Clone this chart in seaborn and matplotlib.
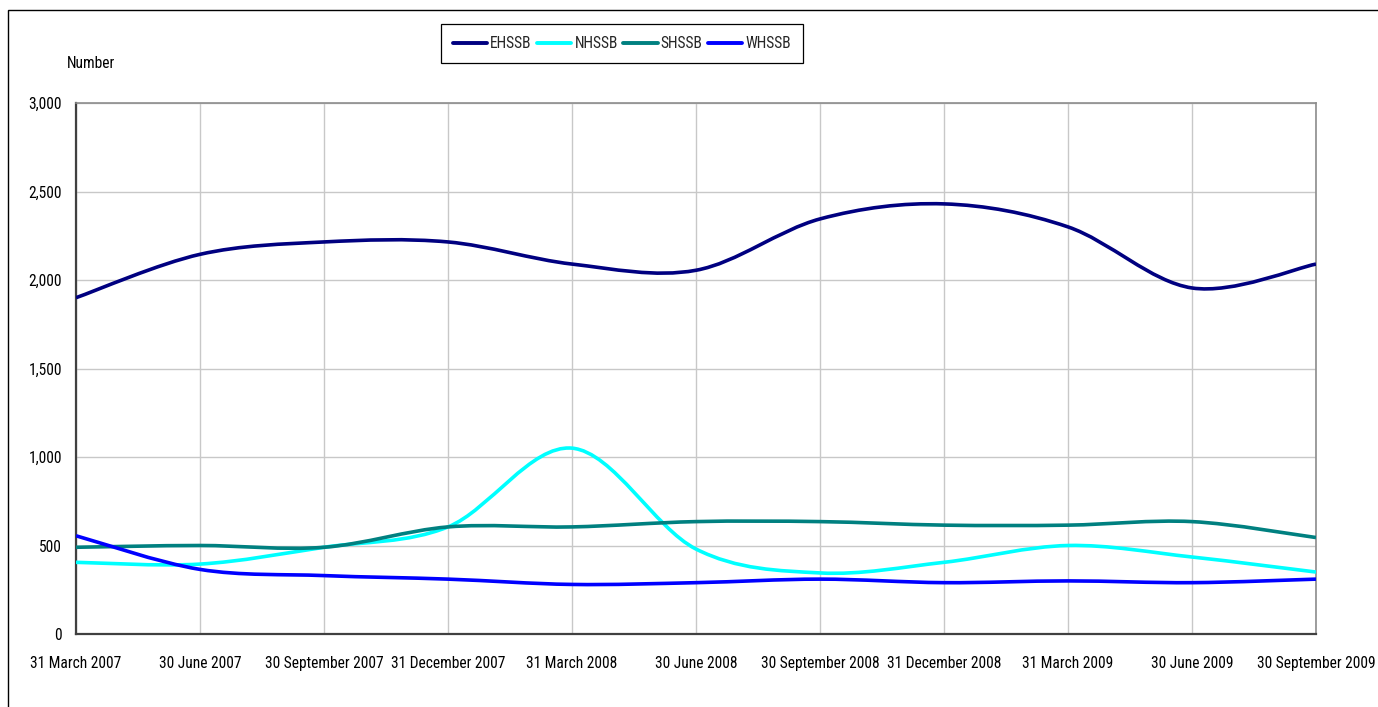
import matplotlib
matplotlib.use("Agg")
import matplotlib.pyplot as plt
from matplotlib import font_manager
from matplotlib.path import Path
from matplotlib.patches import PathPatch, Rectangle
import numpy as np
import pandas as pd
import seaborn as sns

# ---- data (quarter-end counts) ----
quarters = ["31 March 2007", "30 June 2007", "30 September 2007", "31 December 2007",
            "31 March 2008", "30 June 2008", "30 September 2008", "31 December 2008",
            "31 March 2009", "30 June 2009", "30 September 2009"]
EHSSB = [1900, 2145, 2215, 2215, 2090, 2055, 2345, 2430, 2300, 1955, 2090]
NHSSB = [405, 395, 490, 605, 1050, 480, 345, 405, 500, 435, 350]
SHSSB = [490, 500, 490, 605, 605, 635, 635, 615, 615, 635, 545]
WHSSB = [555, 365, 330, 310, 280, 290, 310, 290, 300, 290, 310]
series_names = ["EHSSB", "NHSSB", "SHSSB", "WHSSB"]
series_values = [EHSSB, NHSSB, SHSSB, WHSSB]
colors = ["#000080", "#00FFFF", "#008080", "#0000FF"]
y_ticks = [0, 500, 1000, 1500, 2000, 2500, 3000]

rows = []
for name, vals in zip(series_names, series_values):
    for i, v in enumerate(vals):
        rows.append({"idx": i, "value": v, "series": name})
df = pd.DataFrame(rows)

sns.set_theme(style="white")

# pick a narrow font if one is installed, otherwise shrink Liberation Sans
available = {f.name for f in font_manager.fontManager.ttflist}
narrow = None
for cand in ["Liberation Sans Narrow", "Arial Narrow", "Roboto Condensed",
             "Open Sans Condensed", "Noto Sans Condensed"]:
    if cand in available:
        narrow = cand
        break
if narrow:
    FONT = [narrow, "DejaVu Sans"]
    FS = 11.2
else:
    FONT = ["Liberation Sans", "DejaVu Sans"]
    FS = 9.6
plt.rcParams["font.family"] = FONT

W, H = 1378, 707
fig = plt.figure(figsize=(W / 100, H / 100), dpi=100)
fig.patch.set_facecolor("white")
L, R, T, B = 76, 1316, 103, 634
ax = fig.add_axes([L / W, 1 - B / H, (R - L) / W, (B - T) / H])

pal = dict(zip(series_names, colors))
sns.lineplot(data=df, x="idx", y="value", hue="series", palette=pal,
             hue_order=series_names, linewidth=2.6, ax=ax, legend=True)

# hide the straight polylines; redraw as smoothed Bezier curves (Excel smoothing)
for ln in ax.lines:
    ln.set_visible(False)


def smooth_path(xs, ys):
    pts = np.column_stack([xs, ys]).astype(float)
    n = len(pts)
    verts = [tuple(pts[0])]
    codes = [Path.MOVETO]
    for i in range(n - 1):
        p0 = pts[i - 1] if i > 0 else pts[i]
        p1 = pts[i]
        p2 = pts[i + 1]
        p3 = pts[i + 2] if i + 2 < n else pts[i + 1]
        c1 = p1 + (p2 - p0) / 6.0
        c2 = p2 - (p3 - p1) / 6.0
        verts += [tuple(c1), tuple(c2), tuple(p2)]
        codes += [Path.CURVE4] * 3
    return Path(verts, codes)


for name, col in zip(series_names, colors):
    sub = df[df["series"] == name]
    patch = PathPatch(smooth_path(sub["idx"].values, sub["value"].values),
                      fill=False, edgecolor=col, lw=2.6, joinstyle="round",
                      capstyle="butt", zorder=3)
    ax.add_patch(patch)

ax.set_xlim(0, len(quarters) - 1)
ax.set_ylim(0, 3000)
ax.set_xticks(range(len(quarters)))
ax.set_xticklabels(quarters)
ax.set_yticks(y_ticks)
ax.set_yticklabels([f"{v:,}" for v in y_ticks])
ax.set_xlabel("")
ax.set_ylabel("")

ax.grid(True, color="#c8c8c8", linewidth=1.0)
ax.set_axisbelow(True)
for s in ["top", "right"]:
    ax.spines[s].set_color("#8c8c8c")
    ax.spines[s].set_linewidth(1.2)
for s in ["left", "bottom"]:
    ax.spines[s].set_color("#404040")
    ax.spines[s].set_linewidth(1.6)
ax.tick_params(axis="both", which="major", direction="out", length=4,
               width=1.4, color="#404040", labelsize=FS, labelcolor="black")
ax.tick_params(axis="x", pad=12)
ax.tick_params(axis="y", pad=6)

# legend
old = ax.get_legend()
handles = list(old.legend_handles)
labels = [t.get_text() for t in old.get_texts()]
old.remove()
for h, c in zip(handles, colors):
    h.set_color(c)
    h.set_linewidth(2.8)
    h.set_visible(True)
leg = fig.legend(handles, labels, loc="center", ncol=4,
                 bbox_to_anchor=(622 / W, 1 - 43.5 / H),
                 bbox_transform=fig.transFigure, frameon=True, fancybox=False,
                 shadow=False, framealpha=1, edgecolor="black",
                 fontsize=FS, handlelength=2.2, handletextpad=0.2,
                 columnspacing=0.35, borderpad=0.75, borderaxespad=0)
leg.get_frame().set_linewidth(0.9)

fig.text(67 / W, 1 - 63 / H, "Number", ha="left", va="center", fontsize=FS,
         color="black")

# outer chart-area border
fig.add_artist(Rectangle((8 / W, -0.1), 2.0, 1 - 10 / H + 0.1,
                         transform=fig.transFigure, fill=False,
                         edgecolor="black", linewidth=1.0, clip_on=False))

fig.savefig("out.png", dpi=100, facecolor="white")
